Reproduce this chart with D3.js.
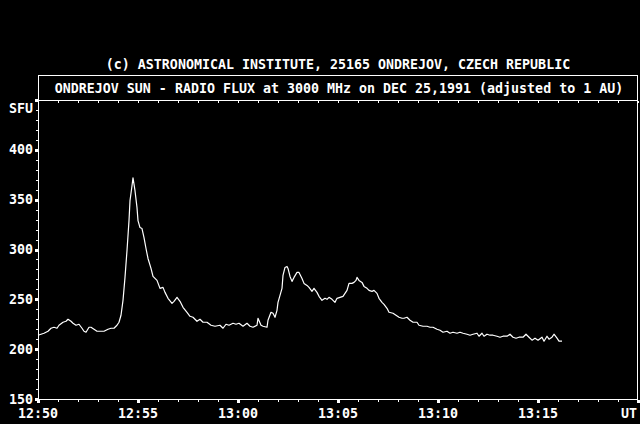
<!DOCTYPE html>
<html>
<head>
<meta charset="utf-8">
<script src="https://cdn.jsdelivr.net/npm/d3@7"></script>
<style>
  html, body { margin: 0; padding: 0; background: #000; }
  svg { display: block; }
  text { font-family: "DejaVu Sans Mono", monospace; font-weight: bold; font-size: 13.3px; fill: #fff; }
</style>
</head>
<body>
<div id="chart"></div>
<script>
// seconds after 12:50:00 UT, and flux in SFU
const seconds = [0, 9, 18, 24, 30, 39, 48, 57, 63, 75, 84, 90, 99, 105, 114, 123, 132, 138, 144, 153,
  159, 168, 177, 189, 198, 210, 219, 228, 237, 243, 249, 255, 261, 267, 273, 276, 282, 285, 291, 297,
  300, 306, 312, 318, 324, 330, 339, 345, 357, 366, 375, 381, 390, 402, 408, 417, 426, 435, 447, 456,
  465, 477, 486, 495, 507, 519, 531, 546, 555, 564, 573, 585, 594, 603, 615, 627, 636, 645, 657, 660,
  669, 675, 687, 690, 699, 705, 711, 717, 720, 726, 732, 735, 741, 747, 750, 756, 762, 768, 777, 783,
  792, 798, 807, 813, 822, 828, 837, 843, 852, 861, 867, 873, 882, 891, 897, 906, 915, 921, 927, 933,
  942, 948, 954, 957, 963, 972, 978, 987, 993, 1002, 1008, 1017, 1023, 1032, 1038, 1047, 1053, 1065, 1074, 1083,
  1092, 1098, 1107, 1116, 1125, 1137, 1143, 1155, 1167, 1176, 1185, 1197, 1206, 1215, 1227, 1236, 1245, 1257, 1266, 1275,
  1287, 1296, 1305, 1317, 1323, 1332, 1338, 1347, 1356, 1365, 1377, 1386, 1395, 1407, 1416, 1425, 1434, 1443, 1455, 1464,
  1473, 1482, 1491, 1500, 1512, 1518, 1527, 1533, 1542, 1548, 1557, 1563, 1572];
const flux = [214, 215, 216, 217, 218, 221, 222, 221, 224, 227, 228, 230, 228, 226, 224, 225, 221, 218, 217, 222,
  222, 220, 218, 218, 218, 220, 221, 221, 224, 227, 234, 249, 272, 299, 329, 349, 364, 372, 359, 342,
  329, 322, 321, 312, 301, 291, 281, 273, 269, 261, 262, 257, 251, 246, 248, 252, 248, 242, 237, 233,
  232, 228, 230, 227, 227, 224, 223, 224, 221, 225, 224, 226, 225, 226, 223, 226, 223, 222, 224, 231,
  224, 223, 222, 229, 237, 236, 232, 239, 247, 254, 261, 274, 282, 283, 281, 273, 268, 272, 277, 277,
  271, 266, 264, 262, 258, 261, 257, 253, 249, 251, 250, 252, 250, 247, 251, 252, 253, 256, 259, 266,
  266, 267, 269, 272, 269, 267, 263, 261, 259, 258, 259, 256, 251, 247, 245, 241, 237, 236, 234, 232,
  231, 231, 232, 229, 227, 227, 224, 223, 223, 222, 222, 220, 219, 217, 218, 216, 217, 216, 217, 216,
  215, 214, 215, 216, 213, 216, 213, 215, 214, 214, 213, 212, 213, 213, 215, 212, 211, 212, 212, 215,
  212, 209, 211, 209, 212, 208, 213, 210, 212, 215, 211, 208, 208];

const yTicks = [150, 200, 250, 300, 350, 400];
const xLabels = ["12:50", "12:55", "13:00", "13:05", "13:10", "13:15"];
const header = "(c) ASTRONOMICAL INSTITUTE, 25165 ONDREJOV, CZECH REPUBLIC";
const title = "ONDREJOV SUN - RADIO FLUX at 3000 MHz on DEC 25,1991 (adjusted to 1 AU)";

const width = 640, height = 424;
const plotLeft = 38, plotRight = 638, plotTop = 100, plotBottom = 399;
const start = new Date(Date.UTC(1991, 11, 25, 12, 50));

const x = d3.scaleUtc([start, d3.utcMinute.offset(start, 30)], [plotLeft, plotRight]);
const y = d3.scaleLinear([150, 450], [plotBottom, plotTop]);

const svg = d3.select("#chart").append("svg")
    .attr("width", width)
    .attr("height", height);

svg.append("rect").attr("width", width).attr("height", height).attr("fill", "#000");

svg.append("text")
    .attr("x", 338).attr("y", 64)
    .attr("text-anchor", "middle")
    .attr("dominant-baseline", "central")
    .text(header);

// title box and plot frame
const frame = svg.append("g")
    .attr("fill", "none")
    .attr("stroke", "#fff")
    .attr("shape-rendering", "crispEdges");
frame.append("rect").attr("x", plotLeft + 0.5).attr("y", 75.5).attr("width", plotRight - plotLeft - 1).attr("height", plotTop - 75);
frame.append("rect").attr("x", plotLeft + 0.5).attr("y", plotTop + 0.5).attr("width", plotRight - plotLeft - 1).attr("height", plotBottom - plotTop);

svg.append("text")
    .attr("x", 339).attr("y", 88)
    .attr("text-anchor", "middle")
    .attr("dominant-baseline", "central")
    .text(title);

const minutes = d3.utcMinute.range(start, d3.utcMinute.offset(start, 31));

// top ticks (inside)
svg.append("g").selectAll("rect")
  .data(minutes)
  .join("rect")
    .attr("x", d => Math.round(x(d)))
    .attr("y", plotTop + 1)
    .attr("width", 1).attr("height", 2)
    .attr("fill", "#fff");

// bottom ticks: minute dots and 5-minute squares
svg.append("g").selectAll("rect")
  .data(minutes)
  .join("rect")
    .attr("x", d => d.getUTCMinutes() % 5 === 0 ? Math.round(x(d)) - 1 : Math.round(x(d)))
    .attr("y", plotBottom + 1)
    .attr("width", d => d.getUTCMinutes() % 5 === 0 ? 3 : 1)
    .attr("height", d => d.getUTCMinutes() % 5 === 0 ? 3 : 2)
    .attr("fill", "#fff");

// left ticks: every 10 SFU, squares every 50
svg.append("g").selectAll("rect")
  .data(d3.range(150, 451, 10))
  .join("rect")
    .attr("x", d => d % 50 === 0 ? plotLeft - 3 : plotLeft - 2)
    .attr("y", d => d % 50 === 0 ? Math.round(y(d)) - 1 : Math.round(y(d)))
    .attr("width", d => d % 50 === 0 ? 3 : 2)
    .attr("height", d => d % 50 === 0 ? 3 : 1)
    .attr("fill", "#fff");

svg.append("g")
    .attr("text-anchor", "end")
  .selectAll("text")
  .data(yTicks)
  .join("text")
    .attr("x", 33)
    .attr("y", d => y(d))
    .attr("dominant-baseline", "central")
    .text(d => d);

svg.append("text")
    .attr("x", 33).attr("y", 108)
    .attr("text-anchor", "end")
    .attr("dominant-baseline", "central")
    .text("SFU");

svg.append("g")
    .attr("text-anchor", "middle")
  .selectAll("text")
  .data(xLabels)
  .join("text")
    .attr("x", (d, i) => x(d3.utcMinute.offset(start, i * 5)))
    .attr("y", 413)
    .attr("dominant-baseline", "central")
    .text(d => d);

svg.append("text")
    .attr("x", 637).attr("y", 413)
    .attr("text-anchor", "end")
    .attr("dominant-baseline", "central")
    .text("UT");

const data = seconds.map((s, i) => [new Date(start.getTime() + s * 1000), flux[i]]);

svg.append("path")
    .datum(data)
    .attr("fill", "none")
    .attr("stroke", "#fff")
    .attr("stroke-width", 1.2)
    .attr("stroke-linejoin", "round")
    .attr("d", d3.line(d => x(d[0]), d => y(d[1])));
</script>
</body>
</html>
